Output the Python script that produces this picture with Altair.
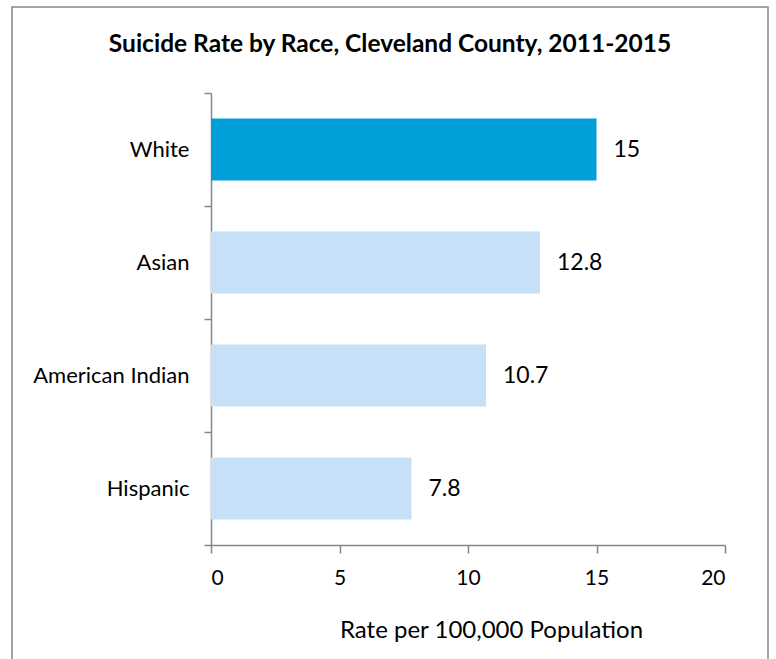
import altair as alt
import pandas as pd

# Suicide rate per 100,000 population by race, Cleveland County, 2011-2015
races = ["White", "Asian", "American Indian", "Hispanic"]
rates = [15, 12.8, 10.7, 7.8]
bar_colors = ["#009FDA", "#C6E0F8", "#C6E0F8", "#C6E0F8"]
x_ticks = [0, 5, 10, 15, 20]

FONT = "Lato"
AXIS_GRAY = "#868686"

df = pd.DataFrame({"race": races, "rate": rates, "color": bar_colors})

y_enc = alt.Y(
    "race:N",
    sort=races,
    scale=alt.Scale(paddingInner=0, paddingOuter=0),
    axis=alt.Axis(
        title=None,
        tickBand="extent",
        tickSize=7,
        labelPadding=15,
        labelFontSize=22,
        labelFont=FONT,
        labelColor="#000000",
        domainColor=AXIS_GRAY,
        tickColor=AXIS_GRAY,
        domainWidth=1.5,
        tickWidth=1.5,
    ),
)

x_enc = alt.X(
    "rate:Q",
    scale=alt.Scale(domain=[0, 20], nice=False),
    axis=alt.Axis(
        title="Rate per 100,000 Population",
        values=x_ticks,
        grid=False,
        tickSize=8,
        labelPadding=14,
        labelFontSize=21,
        labelFont=FONT,
        labelColor="#000000",
        titleFont=FONT,
        titleFontSize=24,
        titleFontWeight="normal",
        titleColor="#000000",
        titlePadding=30,
        titleX=280,
        domainColor=AXIS_GRAY,
        tickColor=AXIS_GRAY,
        domainWidth=1.5,
        tickWidth=1.5,
    ),
)

bars = alt.Chart(df).mark_bar(size=62).encode(
    x=x_enc,
    y=y_enc,
    color=alt.Color("color:N", scale=None, legend=None),
)

labels = alt.Chart(df).mark_text(
    align="left", baseline="middle", dx=17, fontSize=23, font=FONT, color="#000000"
).encode(
    x="rate:Q",
    y=alt.Y("race:N", sort=races),
    text=alt.Text("rate:Q"),
)

# outer frame around the whole chart
frame = alt.Chart(pd.DataFrame({"f": [0]})).mark_rect(
    fill="transparent", stroke=AXIS_GRAY, strokeWidth=1.5
).encode(
    x=alt.value(-199),
    x2=alt.value(557),
    y=alt.value(-86),
    y2=alt.value(580),
)

chart = alt.layer(frame, bars, labels).properties(
    width=514,
    height=452,
    autosize=alt.AutoSizeParams(type="none"),
    padding={"left": 211, "top": 93, "right": 51, "bottom": 114},
    title=alt.TitleParams(
        "Suicide Rate by Race, Cleveland County, 2011-2015",
        font=FONT,
        fontSize=24.5,
        fontWeight="bold",
        color="#000000",
        anchor="middle",
        frame="group",
        dx=-78,
        offset=-51,
    ),
).configure(
    background="#FFFFFF",
    view=alt.ViewConfig(stroke="transparent", strokeWidth=0),
)

chart.save("out.html", embed_options={"renderer": "svg", "actions": False})
